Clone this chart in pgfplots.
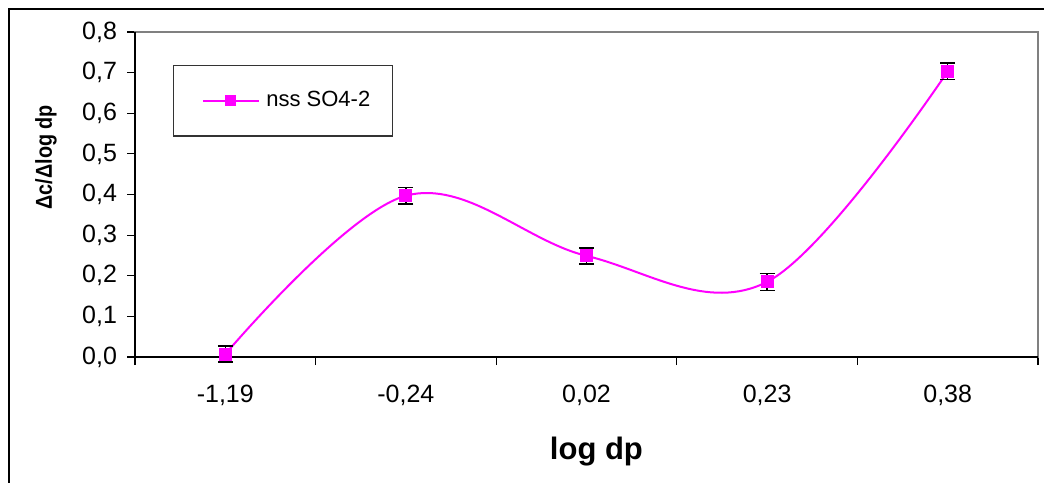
\documentclass[border=0pt]{standalone}
\usepackage{fontspec}
\setmainfont{Liberation Sans}
\newfontfamily\narrowbold[FakeStretch=0.86]{Liberation Sans}
\usepackage{pgfplots}
\usepackage{pgfplotstable}
\pgfplotsset{compat=1.18}
\definecolor{nssmag}{RGB}{255,0,255}
\definecolor{framegray}{RGB}{128,128,128}

% size class midpoints (index), concentration, error
\pgfplotstableread{
x  y      err
0  0.007  0.020
1  0.397  0.020
2  0.249  0.020
3  0.185  0.021
4  0.703  0.020
}\nssdata

\begin{document}
\begin{tikzpicture}
\begin{axis}[
  at={(67.5pt,62.5pt)}, anchor=south west,
  scale only axis, width=451.5pt, height=162.5pt,
  xmin=-0.5, xmax=4.5, ymin=0, ymax=0.8,
  xtick={-0.5,0.5,...,4.5},
  x tick label as interval,
  xticklabels={{-1,19},{-0,24},{0,02},{0,23},{0,38}},
  ytick={0,0.1,...,0.8},
  tick pos=left,
  tick align=outside,
  major tick length=4pt,
  tick style={black, line width=0.6pt},
  axis line style={draw=framegray, line width=0.8pt},
  /pgf/number format/assume math mode=true,
  tick label style={font=\fontsize{12.5}{14}\selectfont},
  yticklabel style={xshift=-1.5pt, /pgf/number format/.cd, fixed, fixed zerofill, precision=1, use comma},
  xticklabel style={yshift=-6.5pt},
  xlabel={log dp},
  xlabel style={at={(rel axis cs:0.511,0)}, anchor=base, yshift=-51pt,
                font=\fontsize{15.5}{18}\selectfont\bfseries},
  ylabel={Δc/Δlog dp},
  ylabel style={at={(axis description cs:-0.0986,0.615)}, anchor=center,
                font=\fontsize{11.5}{13}\narrowbold\bfseries},
  legend entries={nss SO4-2},
  legend style={at={(rel axis cs:0.0418,0.8985)}, anchor=north west,
                draw=black!80, line width=0.6pt,
                inner xsep=9pt, inner ysep=11pt,
                font=\fontsize{11}{13}\selectfont},
  legend image code/.code={%
    \path (-5.5pt,0pt);
    \draw[mark repeat=2, mark phase=2, #1, mark size=2.5pt]
      plot coordinates {(0pt,0pt) (13.75pt,0pt) (27.5pt,0pt)};
    \path (29pt,0pt);},
  clip=false,
]
\addplot+[nssmag, line width=1pt, smooth, tension=0.6,
          mark=square*, mark size=3pt,
          mark options={fill=nssmag, draw=nssmag, line width=0pt},
          error bars/.cd, y dir=both, y explicit,
          error bar style={black, line width=0.7pt},
          error mark options={black, rotate=90, mark size=3.75pt, line width=0.8pt}]
  table[x=x, y=y, y error=err] {\nssdata};
\draw[black, line width=0.8pt] (rel axis cs:0,1) -- (rel axis cs:0,0) -- (rel axis cs:1,0);
\end{axis}
\draw[black, line width=0.7pt] (4.5pt,-3pt) -- (4.5pt,236.5pt) -- (526pt,236.5pt);
\pgfresetboundingbox
\path[use as bounding box] (0,0) rectangle (522pt,241pt);
\end{tikzpicture}
\end{document}
